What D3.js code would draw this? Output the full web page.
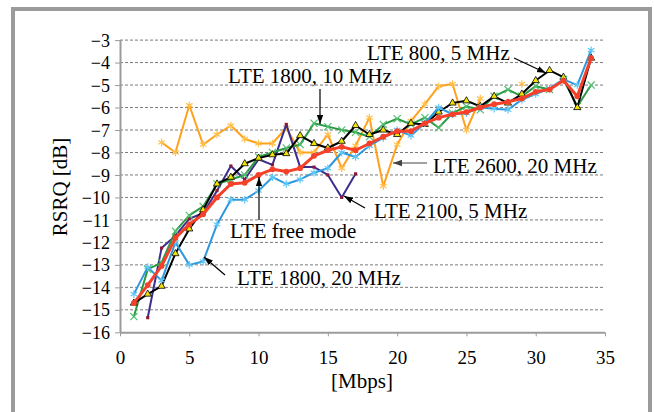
<!DOCTYPE html>
<html><head><meta charset="utf-8">
<script src="https://cdn.jsdelivr.net/npm/d3@7"></script>
<style>
html,body{margin:0;padding:0;background:#fff;}
svg{display:block;}
</style></head>
<body><svg id="c" width="654" height="412"></svg>
<script>
const FONT = "'Liberation Serif','DejaVu Serif','Times New Roman',serif";
const xs = d3.range(1, 35);
const yTicks = [-3,-4,-5,-6,-7,-8,-9,-10,-11,-12,-13,-14,-15,-16];
const xTicks = [0,5,10,15,20,25,30,35];

const lte1800_20 = [-14.3,-13.1,-13.7,-12.0,-13.0,-12.85,-11.2,-10.1,-10.1,-9.7,-9.1,-9.4,-9.2,-8.9,-8.7,-8.0,-8.2,-7.7,-7.35,-7.0,-7.25,-6.7,-6.0,-6.3,-6.25,-6.0,-6.05,-6.1,-5.65,-5.4,-5.15,-4.75,-5.0,-3.45];
const lte1800_10 = [-15.3,-13.2,-12.9,-11.5,-10.8,-10.4,-9.4,-9.2,-9.0,-8.2,-8.0,-7.8,-7.65,-6.7,-6.85,-7.0,-7.1,-7.3,-6.75,-6.5,-6.75,-6.45,-6.9,-6.25,-5.95,-6.1,-5.5,-5.2,-5.5,-5.05,-5.2,-4.75,-5.95,-5.0];
const lte800_5 = [-14.7,-14.3,-13.95,-12.5,-11.4,-10.55,-9.4,-9.1,-8.5,-8.25,-8.1,-8.05,-7.25,-7.6,-7.8,-7.5,-6.8,-7.2,-7.0,-7.2,-6.7,-6.75,-6.2,-5.8,-5.7,-5.95,-5.5,-5.8,-5.4,-4.8,-4.35,-4.65,-6.0,-3.8];
const lte2600_20 = [null,null,-7.55,-8.0,-5.9,-7.65,-7.2,-6.8,-7.4,-7.6,-7.6,-6.9,-8.0,-8.0,-7.2,-8.7,-7.7,-6.45,-9.5,-7.65,-6.6,-5.85,-5.05,-4.95,-7.0,-5.6,null,null,-4.95,null,null,null,null,null];
const lte2100_5 = [null,-15.35,-12.25,-11.7,-10.95,-10.7,-9.7,-8.6,-9.2,-8.3,-8.55,-6.75,-8.65,-8.65,-9.0,-10.0,-8.95,null,null,null,null,null,null,null,null,null,null,null,null,null,null,null,null,null];
const lteFree = [-14.7,-13.9,-13.05,-11.8,-11.2,-10.75,-10.0,-9.4,-9.35,-9.0,-8.75,-8.85,-8.7,-8.15,-7.9,-7.75,-7.9,-7.6,-7.3,-7.05,-7.05,-6.7,-6.45,-6.3,-6.2,-6.0,-5.85,-5.75,-5.6,-5.3,-5.2,-4.8,-5.5,-3.8];

const svg = d3.select("#c");
svg.append("rect").attr("x",13).attr("y",9).attr("width",637).attr("height",430)
  .attr("fill","none").attr("stroke","#9b9b9b").attr("stroke-width",4);

const x = d3.scaleLinear().domain([0,35]).range([120,605]);
const y = d3.scaleLinear().domain([-16,-3]).range([332.3,40.1]);

svg.append("g").selectAll("line").data(yTicks.filter(v=>v>-16)).join("line")
  .attr("x1",x(0)).attr("x2",x(35)).attr("y1",d=>y(d)).attr("y2",d=>y(d))
  .attr("stroke","#7a7a7a").attr("stroke-width",1).attr("stroke-dasharray","3,2");

const yAxis = d3.axisLeft(y).tickValues(yTicks).tickSize(5).tickFormat(d3.format("d"));
const gy = svg.append("g").attr("transform",`translate(${x(0)},0)`).call(yAxis);
gy.attr("font-family",null).attr("font-size",null);
gy.select(".domain").attr("stroke","#9b9b9b").attr("stroke-width",2).attr("d",`M0.5,${y(-3)}V${y(-16)}`);
gy.selectAll(".tick line").attr("stroke","#9b9b9b");
gy.selectAll(".tick text").style("font-family",FONT).style("font-size","18px").attr("fill","#000")
  .attr("x",-10).attr("dy","0.34em");

const xAxis = d3.axisBottom(x).tickValues(xTicks).tickSize(4).tickFormat(d3.format("d"));
const gx = svg.append("g").attr("transform",`translate(0,${y(-16)})`).call(xAxis);
gx.attr("font-family",null).attr("font-size",null);
gx.select(".domain").attr("stroke","#9b9b9b").attr("stroke-width",2).attr("d",`M${x(0)},0.5H${x(35)}`);
gx.selectAll(".tick line").attr("stroke","#9b9b9b");
gx.selectAll(".tick text").style("font-family",FONT).style("font-size","19px").attr("fill","#000")
  .attr("y",32).attr("dy","0");

svg.append("text").attr("x",362).attr("y",388).attr("text-anchor","middle")
  .style("font-family",FONT).style("font-size","21px").text("[Mbps]");
svg.append("text").attr("transform",`translate(67,187) rotate(-90)`).attr("text-anchor","middle")
  .style("font-family",FONT).style("font-size","21px").text("RSRQ [dB]");

const series = [
  {name:"LTE 2600, 20 MHz", vals:lte2600_20, color:"#ffa11c", width:2, mark:"ast", mcol:"#ffc04d"},
  {name:"LTE 2100, 5 MHz", vals:lte2100_5, color:"#3c2d8e", width:2, mark:"sq", mcol:"#8b1a3a"},
  {name:"LTE 1800, 10 MHz", vals:lte1800_10, color:"#2c9945", width:2, mark:"x", mcol:"#52c070"},
  {name:"LTE 800, 5 MHz", vals:lte800_5, color:"#000000", width:2, mark:"tri", mcol:"#f2e200"},
  {name:"LTE 1800, 20 MHz", vals:lte1800_20, color:"#2f97dc", width:2, mark:"ast", mcol:"#5fc8f5"},
  {name:"LTE free mode", vals:lteFree, color:"#f5402a", width:3, mark:"circ", mcol:"#f5402a"}
];
const line = d3.line().defined(d=>d[1]!==null).x(d=>x(d[0])).y(d=>y(d[1]));
series.forEach(s=>{
  const pts = xs.map((v,i)=>[v,s.vals[i]]);
  const g = svg.append("g");
  g.append("path").datum(pts).attr("d",line).attr("fill","none").attr("stroke",s.color)
    .attr("stroke-width",s.width).attr("stroke-linejoin","round");
  const mp = pts.filter(d=>d[1]!==null);
  let sym, fill="none", stroke=s.mcol, sw=1.2, size=30;
  if(s.mark==="ast"){sym=d3.symbolAsterisk;size=40;}
  else if(s.mark==="x"){sym=d3.symbolTimes;size=35;}
  else if(s.mark==="tri"){sym=d3.symbolTriangle;fill=s.mcol;stroke="#000";sw=0.8;size=22;}
  else if(s.mark==="sq"){sym=d3.symbolSquare;fill=s.mcol;stroke="none";size=10;}
  else {sym=d3.symbolCircle;fill=s.mcol;stroke="none";size=26;}
  g.selectAll("path.m").data(mp).join("path").attr("class","m")
    .attr("transform",d=>`translate(${x(d[0])},${y(d[1])})`)
    .attr("d",d3.symbol().type(sym).size(size))
    .attr("fill",fill).attr("stroke",stroke).attr("stroke-width",sw);
});

const defs = svg.append("defs");
defs.append("marker").attr("id","ah").attr("viewBox","0 0 10 10").attr("refX",10).attr("refY",5)
  .attr("markerWidth",9).attr("markerHeight",9).attr("markerUnits","userSpaceOnUse").attr("orient","auto")
  .append("path").attr("d","M0,1.5L10,5L0,8.5Z").attr("fill","#000");
defs.append("marker").attr("id","ahg").attr("viewBox","0 0 10 10").attr("refX",10).attr("refY",5)
  .attr("markerWidth",9).attr("markerHeight",9).attr("markerUnits","userSpaceOnUse").attr("orient","auto")
  .append("path").attr("d","M0,1.5L10,5L0,8.5Z").attr("fill","#444");

const labels = [
  {t:"LTE 800, 5 MHz", x:367, y:60, a:[514,58,546,73], c:"#000", m:"ah"},
  {t:"LTE 1800, 10 MHz", x:228, y:83, a:[320,89,320,124], c:"#000", m:"ah"},
  {t:"LTE 2600, 20 MHz", x:433, y:173, a:[427,163,393,163], c:"#444", m:"ahg"},
  {t:"LTE 2100, 5 MHz", x:374, y:218, a:[365,208,344,196], c:"#000", m:"ah"},
  {t:"LTE free mode", x:230, y:238, a:[259,220,259,177], c:"#000", m:"ah"},
  {t:"LTE 1800, 20 MHz", x:237, y:285, a:[225,275,204,257], c:"#000", m:"ah"}
];
labels.forEach(l=>{
  svg.append("line").attr("x1",l.a[0]).attr("y1",l.a[1]).attr("x2",l.a[2]).attr("y2",l.a[3])
    .attr("stroke",l.c).attr("stroke-width",1.2).attr("marker-end",`url(#${l.m})`);
  svg.append("text").attr("x",l.x).attr("y",l.y).style("font-family",FONT).style("font-size","21px").text(l.t);
});
</script></body></html>
